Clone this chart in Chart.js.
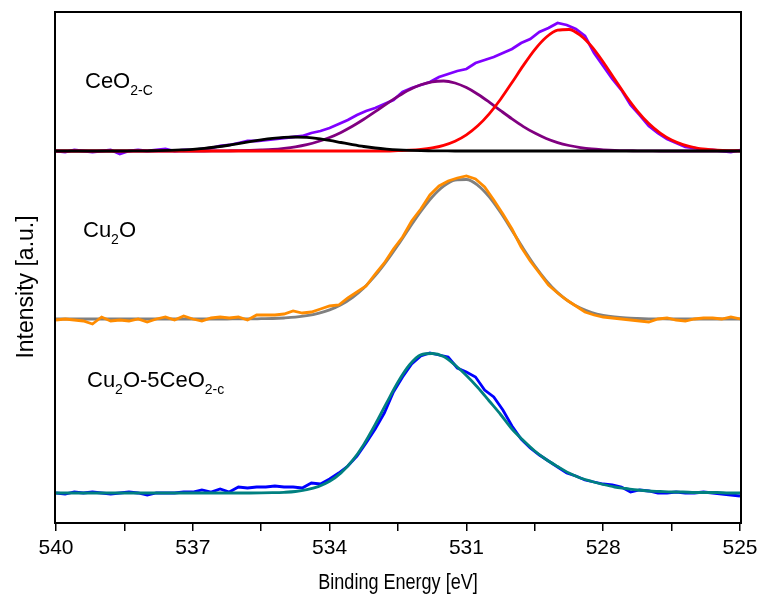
<!DOCTYPE html>
<html>
<head>
<meta charset="utf-8">
<script src="https://cdn.jsdelivr.net/npm/chart.js@4/dist/chart.umd.min.js"></script>
<style>
  body { margin: 0; background: #fff; }
  canvas { display: block; }
</style>
</head>
<body>
<canvas id="xps" width="763" height="605"></canvas>
<script>
// binding energy grids (eV)
const energyRaw = [540.0, 539.8, 539.6, 539.4, 539.2, 539.0, 538.8, 538.6, 538.4, 538.2,
    538.0, 537.8, 537.6, 537.4, 537.2, 537.0, 536.8, 536.6, 536.4, 536.2,
    536.0, 535.8, 535.6, 535.4, 535.2, 535.0, 534.8, 534.6, 534.4, 534.2,
    534.0, 533.8, 533.6, 533.4, 533.2, 533.0, 532.8, 532.6, 532.4, 532.2,
    532.0, 531.8, 531.6, 531.4, 531.2, 531.0, 530.8, 530.6, 530.4, 530.2,
    530.0, 529.8, 529.6, 529.4, 529.2, 529.0, 528.8, 528.6, 528.4, 528.2,
    528.0, 527.8, 527.6, 527.4, 527.2, 527.0, 526.8, 526.6, 526.4, 526.2,
    526.0, 525.8, 525.6, 525.4, 525.2, 525.0];
const energyFit = [540.0, 539.75, 539.5, 539.25, 539.0, 538.75, 538.5, 538.25, 538.0, 537.75,
    537.5, 537.25, 537.0, 536.75, 536.5, 536.25, 536.0, 535.75, 535.5, 535.25,
    535.0, 534.75, 534.5, 534.25, 534.0, 533.75, 533.5, 533.25, 533.0, 532.75,
    532.5, 532.25, 532.0, 531.75, 531.5, 531.25, 531.0, 530.75, 530.5, 530.25,
    530.0, 529.75, 529.5, 529.25, 529.0, 528.75, 528.5, 528.25, 528.0, 527.75,
    527.5, 527.25, 527.0, 526.75, 526.5, 526.25, 526.0, 525.75, 525.5, 525.25, 525.0];
const xTicks = [540, 537, 534, 531, 528, 525];

// CeO2-C
const ceoRaw = [0, -1, 1, 0, -1, 0, 1, -3, 0, 1,
    0, 1, 2, 0, 1, 1, 2, 3, 5, 6,
    8, 10, 10, 11, 12, 13, 14, 15, 18, 20,
    23, 27, 31, 36, 40, 43, 47, 51, 59, 63,
    66, 69, 74, 77, 80, 82, 88, 91, 94, 98,
    102, 108, 112, 119, 123, 128, 126, 122, 115, 98,
    85, 72, 61, 46, 36, 25, 18, 12, 8, 4,
    3, 1, 1, 0, -1, 1];
const ceoFit535 = [0, 0, 0, 0, 0, 0, 0, 0.1, 0.2, 0.3,
    0.6, 1.1, 1.7, 2.7, 4.0, 5.5, 7.3, 9.3, 11.1, 12.6,
    13.6, 14.0, 13.6, 12.4, 10.6, 8.5, 6.4, 4.5, 3.0, 1.9,
    1.1, 0.6, 0.3, 0.2, 0.1, 0, 0, 0, 0, 0,
    0, 0, 0, 0, 0, 0, 0, 0, 0, 0,
    0, 0, 0, 0, 0, 0, 0, 0, 0, 0, 0];
const ceoFit531 = [0, 0, 0, 0, 0, 0, 0, 0, 0, 0,
    0, 0, 0, 0, 0.1, 0.2, 0.3, 0.6, 1.0, 1.6,
    2.7, 4.2, 6.4, 9.5, 13.5, 18.6, 24.7, 31.7, 39.3, 47.2,
    54.6, 61.2, 66.2, 69.2, 70.0, 68.0, 63.4, 56.8, 48.9, 40.4,
    32.1, 24.4, 17.9, 12.5, 8.4, 5.5, 3.4, 2.0, 1.2, 0.6,
    0.3, 0.2, 0.1, 0, 0, 0, 0, 0, 0, 0, 0];
const ceoFit529 = [0, 0, 0, 0, 0, 0, 0, 0, 0, 0,
    0, 0, 0, 0, 0, 0, 0, 0, 0, 0,
    0, 0, 0, 0, 0, 0, 0, 0, 0, 0,
    0.4, 0.8, 1.6, 3.1, 5.7, 9.8, 16.2, 25.2, 37.2, 51.8,
    68.5, 85.6, 101.4, 113.7, 120.8, 121.5, 115.6, 104.3, 89.0, 71.9,
    55.0, 39.9, 27.4, 17.8, 10.9, 6.4, 3.5, 1.8, 0.9, 0.4, 0.2];

// Cu2O
const cuRaw = [-1, 0, -1, -2, -5, 2, -2, -1, -2, 0,
    -3, 0, 2, -1, 3, 0, -2, 1, 2, 1,
    2, -1, 4, 4, 4, 5, 8, 6, 7, 10,
    13, 14, 21, 27, 33, 45, 56, 70, 82, 98,
    110, 124, 133, 138, 141, 143, 140, 132, 119, 105,
    90, 72, 58, 46, 34, 26, 19, 13, 7, 4,
    2, 1, 0, -1, -2, -3, 0, 1, -1, -2,
    0, 1, 1, 0, 2, 0];
const cuFit = [0, 0, 0, 0, 0, 0, 0, 0, 0, 0,
    0, 0, 0, 0, 0, 0, 0.1, 0.1, 0.3, 0.5,
    1.0, 1.8, 3.3, 5.6, 9.1, 14.3, 21.5, 31.1, 43.3, 57.8,
    74.0, 91.1, 107.6, 122.0, 132.9, 139.0, 139.5, 133.7, 122.2, 106.5,
    88.6, 70.3, 53.2, 38.4, 26.4, 17.4, 10.9, 6.5, 3.7, 2.0,
    1.0, 0.5, 0.2, 0.1, 0, 0, 0, 0, 0, 0, 0];

// Cu2O-5CeO2-c
const mixRaw = [0, -1, 1, 0, 1, 0, -1, 0, 1, 0,
    -2, 0, 0, 0, 1, 1, 3, 1, 4, 1,
    6, 5, 6, 6, 7, 6, 6, 5, 10, 9,
    14, 20, 27, 37, 50, 64, 80, 101, 116, 129,
    137, 140, 138, 136, 125, 121, 116, 103, 96, 83,
    67, 54, 45, 38, 32, 26, 20, 17, 13, 11,
    9, 8, 6, 1, 3, 2, 0, 0, 1, 0,
    0, 1, 0, -1, -2, -3];
const mixFit = [0, 0, 0, 0, 0, 0, 0, 0, 0, 0,
    0, 0, 0, 0, 0, 0, 0, 0, 0.1, 0.3,
    0.7, 1.5, 3.3, 6.4, 11.7, 20.1, 32.3, 48.6, 68.5, 90.1,
    111.0, 128.0, 138.1, 139.5, 136.5, 128.0, 117.5, 105.5, 92.0, 78.5,
    64.0, 52.5, 42.0, 33.5, 26.5, 20.0, 15.0, 11.5, 8.5, 6.0,
    4.5, 3.0, 2.0, 1.5, 1.0, 1.0, 0.5, 0.5, 0.5, 0, 0];

// vertical offsets of the three stacked spectra
const panelOffset = [372, 204, 30];

function toPoints(energies, values, offset) {
    return energies.map((e, i) => ({ x: e, y: values[i] + offset }));
}

function rawSet(values, offset, color) {
    return {
        data: toPoints(energyRaw, values, offset),
        borderColor: color,
        borderWidth: 2.8,
        pointRadius: 0,
        tension: 0,
        fill: false
    };
}

function fitSet(values, offset, color) {
    return {
        data: toPoints(energyFit, values, offset),
        borderColor: color,
        borderWidth: 2.8,
        pointRadius: 0,
        cubicInterpolationMode: "monotone",
        fill: false
    };
}

function drawParts(ctx, x, y, parts) {
    // parts: [text, isSubscript]
    for (const [text, sub] of parts) {
        ctx.font = sub ? "14px 'Liberation Sans', Arial, sans-serif" : "22px 'Liberation Sans', Arial, sans-serif";
        ctx.fillText(text, x, sub ? y + 7 : y);
        x += ctx.measureText(text).width;
    }
}

const framePlugin = {
    id: "frameAndLabels",
    afterDraw(chart) {
        const ctx = chart.ctx;
        const a = chart.chartArea;
        ctx.save();
        ctx.strokeStyle = "#000";
        ctx.lineWidth = 2;
        ctx.strokeRect(a.left - 1, a.top, a.right - a.left + 2, a.bottom - a.top);

        ctx.fillStyle = "#000";
        ctx.textBaseline = "alphabetic";
        ctx.textAlign = "left";
        drawParts(ctx, 85, 88, [["CeO", false], ["2-C", true]]);
        drawParts(ctx, 83, 237, [["Cu", false], ["2", true], ["O", false]]);
        drawParts(ctx, 87, 387, [["Cu", false], ["2", true], ["O-5CeO", false], ["2-c", true]]);

        // x axis title, slightly condensed like the original
        ctx.save();
        ctx.translate((a.left + a.right) / 2, 583);
        ctx.scale(0.82, 1);
        ctx.textAlign = "center";
        ctx.textBaseline = "middle";
        ctx.font = "22px 'Liberation Sans', Arial, sans-serif";
        ctx.fillText("Binding Energy [eV]", 0, 0);
        ctx.restore();

        ctx.translate(27, 287);
        ctx.rotate(-Math.PI / 2);
        ctx.textAlign = "center";
        ctx.textBaseline = "middle";
        ctx.font = "23px 'Liberation Sans', Arial, sans-serif";
        ctx.fillText("Intensity [a.u.]", 0, 0);
        ctx.restore();
    }
};

const data = {
    datasets: [
        fitSet(mixFit, panelOffset[2], "#008080"),
        rawSet(mixRaw, panelOffset[2], "#0000ff"),
        rawSet(cuRaw, panelOffset[1], "#ff8c00"),
        fitSet(cuFit, panelOffset[1], "#808080"),
        fitSet(ceoFit535, panelOffset[0], "#000000"),
        fitSet(ceoFit529, panelOffset[0], "#ff0000"),
        fitSet(ceoFit531, panelOffset[0], "#800080"),
        rawSet(ceoRaw, panelOffset[0], "#8000ff")
    ]
};

const config = {
    type: "line",
    data: data,
    options: {
        responsive: false,
        animation: false,
        devicePixelRatio: 1,
        layout: { padding: { left: 56, right: 23, top: 12, bottom: 0 } },
        plugins: { legend: { display: false }, tooltip: { enabled: false } },
        scales: {
            x: {
                type: "linear",
                reverse: true,
                min: 525,
                max: 540,
                afterFit: (scale) => { scale.height = 82; },
                afterBuildTicks: (scale) => {
                    let t = [];
                    for (let v = 525; v <= 540; v += 1.5) t.push({ value: v });
                    scale.ticks = t;
                },
                border: { display: false },
                grid: {
                    drawOnChartArea: false,
                    drawTicks: true,
                    tickLength: 8,
                    lineWidth: 1.5,
                    color: "#000"
                },
                ticks: {
                    color: "#000",
                    padding: 5,
                    maxRotation: 0,
                    autoSkip: false,
                    font: { family: "'Liberation Sans', Arial, sans-serif", size: 21 },
                    callback: (v) => (xTicks.includes(v) ? String(v) : "")
                }
            },
            y: {
                display: false,
                min: 0,
                max: 511
            }
        }
    },
    plugins: [framePlugin]
};

let ctx = document.getElementById("xps").getContext("2d");
new Chart(ctx, config);
</script>
</body>
</html>
